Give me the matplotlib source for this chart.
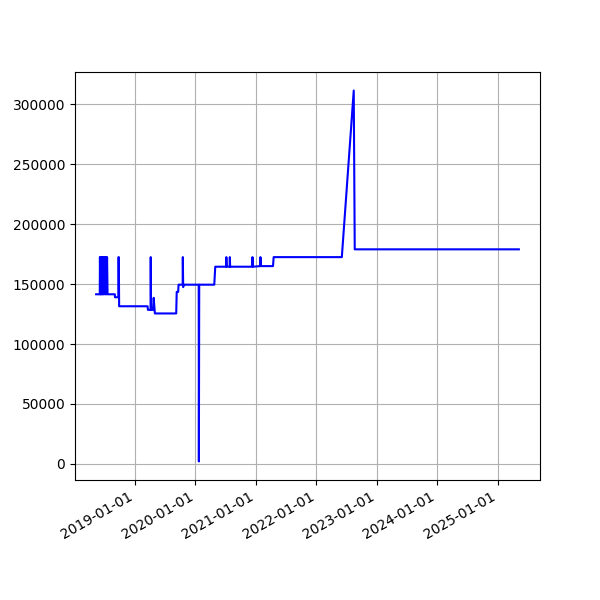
import matplotlib
matplotlib.use("Agg")
import matplotlib.pyplot as plt
import matplotlib.dates as mdates
import pandas as pd

dates = [
    "2018-05-11", "2018-06-02", "2018-06-03", "2018-06-05", "2018-06-07", "2018-06-09",
    "2018-06-11", "2018-06-13", "2018-06-15", "2018-06-17", "2018-06-19", "2018-06-21",
    "2018-06-23", "2018-06-25", "2018-06-27", "2018-07-03", "2018-07-04", "2018-07-07",
    "2018-07-10", "2018-07-13", "2018-07-16", "2018-07-19", "2018-09-01", "2018-09-02",
    "2018-09-22", "2018-09-23", "2018-09-25", "2018-09-27", "2019-03-18", "2019-03-20",
    "2019-04-05", "2019-04-06", "2019-04-08", "2019-04-20", "2019-04-24", "2019-05-01",
    "2019-09-07", "2019-09-10", "2019-09-19", "2019-09-21", "2019-10-16", "2019-10-17",
    "2019-10-19", "2019-10-22", "2020-01-21", "2020-01-22", "2020-01-24", "2020-04-24",
    "2020-04-30", "2020-07-05", "2020-07-06", "2020-07-08", "2020-07-26", "2020-07-27",
    "2020-07-29", "2020-12-10", "2020-12-11", "2020-12-13", "2021-01-27", "2021-01-28",
    "2021-01-30", "2021-04-14", "2021-04-18", "2022-06-04", "2022-08-15", "2022-08-21",
    "2025-05-09",
]
values = [
    141500, 141500, 172500, 141500, 172500, 141500,
    172500, 141500, 172500, 141500, 172500, 141500,
    172500, 141500, 172500, 141500, 172500, 141500,
    172500, 141500, 172500, 141500, 141500, 139000,
    139000, 172500, 172500, 131500, 131500, 128500,
    128500, 172500, 128500, 128500, 138500, 125500,
    125500, 143500, 143500, 149500, 149500, 172500,
    147500, 149500, 149500, 2000, 149500, 149500,
    164500, 164500, 172500, 164500, 164500, 172500,
    164500, 164500, 172500, 164500, 165000, 172500,
    165000, 165000, 172500, 172500, 311500, 179000,
    179000,
]

x = pd.to_datetime(dates)

fig, ax = plt.subplots(figsize=(6, 6), dpi=100)
ax.plot(x, values, color="blue", linewidth=1.5)
ax.grid(True)
ax.xaxis.set_major_locator(mdates.YearLocator())
ax.xaxis.set_major_formatter(mdates.DateFormatter("%Y-%m-%d"))
fig.autofmt_xdate()
fig.savefig("out.png", dpi=100)
